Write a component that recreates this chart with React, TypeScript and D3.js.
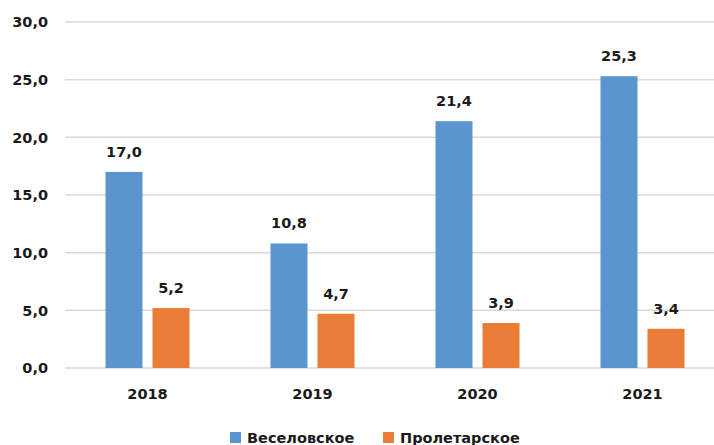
import React from "react";
import * as d3 from "d3";

const years = ["2018", "2019", "2020", "2021"];
const veselovskoe = [17.0, 10.8, 21.4, 25.3];
const proletarskoe = [5.2, 4.7, 3.9, 3.4];
const seriesNames = ["Веселовское", "Пролетарское"];
const yTicks = [0, 5, 10, 15, 20, 25, 30];
const colors = ["#5B95CD", "#E97D37"];

const W = 714;
const H = 445;
const FONT = "'DejaVu Sans', sans-serif";

export default function App() {
  const x = d3.scaleBand<string>().domain(years).range([65, 725]).paddingInner(0).paddingOuter(0);
  const y = d3.scaleLinear().domain([0, 30]).range([368, 22]);
  const fmt = (v: number) => v.toFixed(1).replace(".", ",");
  const barW = 37;
  const gap = 10;
  const series = [veselovskoe, proletarskoe];

  return (
    <svg width={W} height={H} style={{ position: "absolute", left: 0, top: 0, background: "#fff" }}>
      {yTicks.map((t) => (
        <g key={t}>
          <line x1={65} x2={W} y1={y(t)} y2={y(t)} stroke="#d9d9d9" strokeWidth={1.5} />
          <text x={48} y={y(t)} dy="0.36em" textAnchor="end" fontFamily={FONT} fontWeight="bold" fontSize={14.5} fill="#1a1a1a">
            {fmt(t)}
          </text>
        </g>
      ))}
      {years.map((yr, i) => {
        const c = (x(yr) as number) + x.bandwidth() / 2;
        return (
          <g key={yr}>
            {series.map((s, k) => {
              const bx = c - (barW * 2 + gap) / 2 + k * (barW + gap);
              const top = y(s[i]);
              return (
                <g key={k}>
                  <rect x={bx} y={top} width={barW} height={y(0) - top} fill={colors[k]} />
                  <text x={bx + barW / 2} y={top - 15} textAnchor="middle" fontFamily={FONT} fontWeight="bold" fontSize={14.5} fill="#1a1a1a">
                    {fmt(s[i])}
                  </text>
                </g>
              );
            })}
            <text x={c} y={399} textAnchor="middle" fontFamily={FONT} fontWeight="bold" fontSize={14.5} fill="#1a1a1a">
              {yr}
            </text>
          </g>
        );
      })}
      {seriesNames.map((n, k) => {
        const lx = [230, 383][k];
        return (
          <g key={n}>
            <rect x={lx} y={432} width={11} height={11} fill={colors[k]} />
            <text x={lx + 17} y={443} fontFamily={FONT} fontWeight="bold" fontSize={14.5} fill="#1a1a1a">
              {n}
            </text>
          </g>
        );
      })}
    </svg>
  );
}
